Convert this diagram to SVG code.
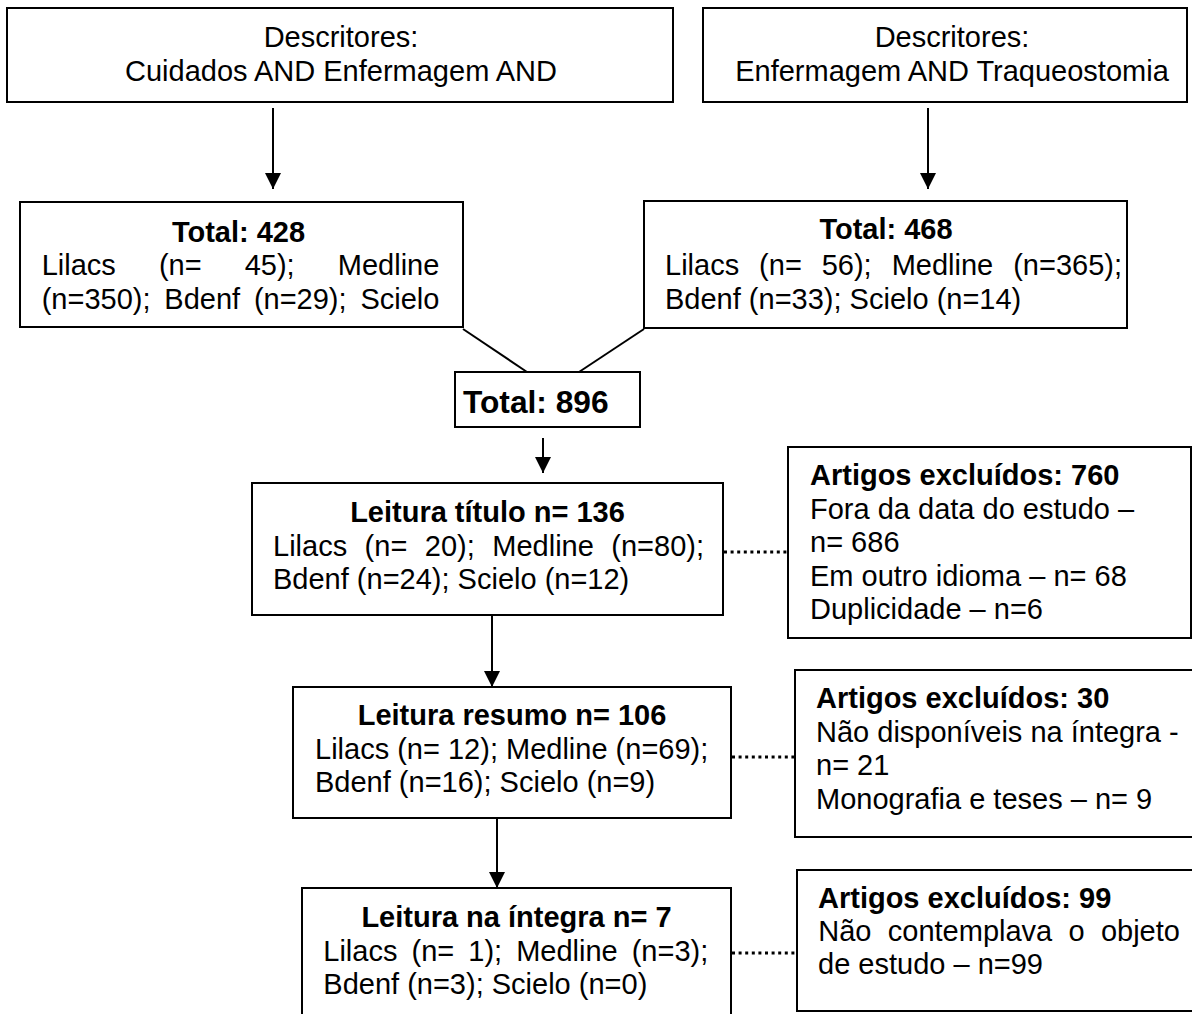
<svg xmlns="http://www.w3.org/2000/svg" width="1192" height="1014" viewBox="0 0 1192 1014">
<style>
text{font-family:"Liberation Sans",Arial,sans-serif;font-size:29px;fill:#000}
.b{font-weight:bold}
.c{text-anchor:middle}
.box{fill:#fff;stroke:#000;stroke-width:2}
.ln{stroke:#000;stroke-width:2;fill:none}
.ar{stroke:#000;stroke-width:2;fill:none;marker-end:url(#ah)}
.dt{stroke:#000;stroke-width:3;stroke-dasharray:3 3.6;fill:none}
</style>
<defs>
<marker id="ah" viewBox="0 0 16 16" refX="16" refY="8" markerWidth="16" markerHeight="16" markerUnits="userSpaceOnUse" orient="auto">
<path d="M0,0 L16,8 L0,16 z" fill="#000"/>
</marker>
</defs>
<rect width="1192" height="1014" fill="#fff"/>
<g id="connectors">
<line class="ar" x1="273" y1="108" x2="273" y2="189"/>
<line class="ar" x1="928" y1="108" x2="928" y2="189"/>
<line class="ln" x1="463" y1="329" x2="527" y2="372"/>
<line class="ln" x1="644" y1="329" x2="579" y2="372"/>
<line class="ar" x1="543" y1="438" x2="543" y2="473"/>
<line class="ar" x1="492" y1="615" x2="492" y2="687"/>
<line class="ar" x1="497" y1="818" x2="497" y2="888"/>
<line class="dt" x1="724" y1="552" x2="788" y2="552"/>
<line class="dt" x1="732" y1="757" x2="795" y2="757"/>
<line class="dt" x1="732" y1="953" x2="797" y2="953"/>
</g>
<g id="n1">
<rect class="box" x="7" y="8" width="666" height="94"/>
<text class="c" x="341" y="47">Descritores:</text>
<text class="c" x="341" y="81">Cuidados AND Enfermagem AND</text>
</g>
<g id="n2">
<rect class="box" x="703" y="8" width="484" height="94"/>
<text class="c" x="952" y="47">Descritores:</text>
<text class="c" x="952" y="80.5">Enfermagem AND Traqueostomia</text>
</g>
<g id="n3">
<rect class="box" x="20" y="202" width="443" height="125"/>
<text class="c b" x="238.5" y="241.5">Total: 428</text>
<text y="275"><tspan x="41.7">Lilacs</tspan><tspan x="158.9">(n=</tspan><tspan x="244.7">45);</tspan><tspan x="337.8">Medline</tspan></text>
<text y="308.5"><tspan x="41.7">(n=350);</tspan><tspan x="164.3">Bdenf</tspan><tspan x="253.9">(n=29);</tspan><tspan x="360.4">Scielo</tspan></text>
</g>
<g id="n4">
<rect class="box" x="644" y="201" width="483" height="127"/>
<text class="c b" x="886" y="238.5">Total: 468</text>
<text y="275"><tspan x="665">Lilacs</tspan><tspan x="759.1">(n=</tspan><tspan x="821.7">56);</tspan><tspan x="891.7">Medline</tspan><tspan x="1013.2">(n=365);</tspan></text>
<text x="665" y="308.5">Bdenf (n=33); Scielo (n=14)</text>
</g>
<g id="n5">
<rect class="box" x="455" y="372" width="185" height="55"/>
<text class="b" x="463" y="413" style="font-size:31.7px">Total: 896</text>
</g>
<g id="n6">
<rect class="box" x="252" y="483" width="471" height="132"/>
<text class="c b" x="487.5" y="521.5">Leitura título n= 136</text>
<text y="555.5"><tspan x="273">Lilacs</tspan><tspan x="364.6">(n=</tspan><tspan x="424.8">20);</tspan><tspan x="492.3">Medline</tspan><tspan x="611.3">(n=80);</tspan></text>
<text x="273" y="589">Bdenf (n=24); Scielo (n=12)</text>
</g>
<g id="n7">
<rect class="box" x="788" y="447" width="403" height="191"/>
<text class="b" x="810" y="485">Artigos excluídos: 760</text>
<text x="810" y="518.5">Fora da data do estudo –</text>
<text x="810" y="552">n= 686</text>
<text x="810" y="585.5">Em outro idioma – n= 68</text>
<text x="810" y="619">Duplicidade – n=6</text>
</g>
<g id="n8">
<rect class="box" x="293" y="687" width="438" height="131"/>
<text class="c b" x="512" y="725">Leitura resumo n= 106</text>
<text x="315" y="758.5">Lilacs (n= 12); Medline (n=69);</text>
<text x="315" y="792">Bdenf (n=16); Scielo (n=9)</text>
</g>
<g id="n9">
<rect class="box" x="795" y="670" width="400" height="167"/>
<text class="b" x="816" y="708">Artigos excluídos: 30</text>
<text x="816" y="741.5">Não disponíveis na íntegra -</text>
<text x="816" y="775">n= 21</text>
<text x="816" y="808.5">Monografia e teses – n= 9</text>
</g>
<g id="n10">
<rect class="box" x="302" y="888" width="429" height="140"/>
<text class="c b" x="516.5" y="926.5">Leitura na íntegra n= 7</text>
<text y="960.5"><tspan x="323.3">Lilacs</tspan><tspan x="411.5">(n=</tspan><tspan x="468.3">1);</tspan><tspan x="516.2">Medline</tspan><tspan x="631.7">(n=3);</tspan></text>
<text x="323.3" y="994">Bdenf (n=3); Scielo (n=0)</text>
</g>
<g id="n11">
<rect class="box" x="797" y="870" width="400" height="141"/>
<text class="b" x="818" y="908">Artigos excluídos: 99</text>
<text y="941"><tspan x="818.3">Não</tspan><tspan x="887.8">contemplava</tspan><tspan x="1068.5">o</tspan><tspan x="1100.9">objeto</tspan></text>
<text x="818" y="974">de estudo – n=99</text>
</g>
</svg>
